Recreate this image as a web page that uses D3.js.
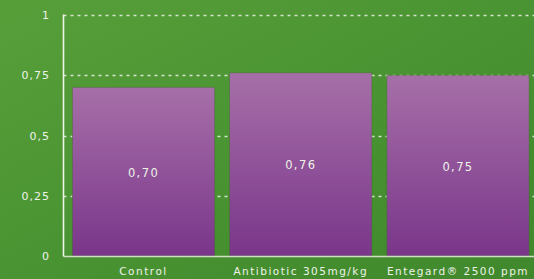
<!DOCTYPE html>
<html>
<head>
<meta charset="utf-8">
<script src="https://cdn.jsdelivr.net/npm/d3@7"></script>
<style>
  html, body { margin: 0; padding: 0; background: #4a9333; }
  svg { display: block; }
  text { font-family: "DejaVu Sans", sans-serif; fill: #eef3e8; }
</style>
</head>
<body>
<svg></svg>
<script>
// chart data
const categories = ["Control", "Antibiotic 305mg/kg", "Entegard\u00ae 2500 ppm"];
const values = [0.70, 0.76, 0.75];
const valueLabels = ["0,70", "0,76", "0,75"];
const tickValues = [0, 0.25, 0.5, 0.75, 1];
const tickLabels = ["0", "0,25", "0,5", "0,75", "1"];

const width = 534;
const height = 279;

const svg = d3.select("svg").attr("width", width).attr("height", height);

// gradients for background and bars
const defs = svg.append("defs");
const bg = defs.append("linearGradient").attr("id", "bg")
  .attr("x1", "0").attr("y1", "0").attr("x2", "1").attr("y2", "1");
bg.append("stop").attr("offset", "0%").attr("stop-color", "#569f39");
bg.append("stop").attr("offset", "100%").attr("stop-color", "#3f882c");

const barGrad = defs.append("linearGradient").attr("id", "barGrad")
  .attr("x1", "0").attr("y1", "0").attr("x2", "0").attr("y2", "1");
barGrad.append("stop").attr("offset", "0%").attr("stop-color", "#a66fa8");
barGrad.append("stop").attr("offset", "100%").attr("stop-color", "#7a368a");

svg.append("rect").attr("width", width).attr("height", height).attr("fill", "url(#bg)");

// scales
const y = d3.scaleLinear().domain([0, 1]).range([256, 15]);
const x = d3.scaleBand().domain(categories)
  .range([64.5, 537]).paddingInner(0.095).paddingOuter(0.05);

const axisX = 63.5;

// dashed gridlines
svg.append("g").selectAll("line")
  .data(tickValues.filter(d => d > 0))
  .join("line")
  .attr("x1", axisX).attr("x2", width)
  .attr("y1", d => Math.round(y(d)) + 0.5).attr("y2", d => Math.round(y(d)) + 0.5)
  .attr("stroke", "#d6e3cc")
  .attr("stroke-width", 1.3)
  .attr("stroke-dasharray", "3,4");

// bars
svg.append("g").selectAll("rect")
  .data(values)
  .join("rect")
  .attr("x", (d, i) => x(categories[i]))
  .attr("y", d => y(d))
  .attr("width", x.bandwidth())
  .attr("height", d => y(0) - y(d))
  .attr("fill", "url(#barGrad)")
  .attr("stroke", "#3d6a2a")
  .attr("stroke-opacity", 0.5)
  .attr("stroke-width", 0.8);

// value labels inside bars
svg.append("g").selectAll("text")
  .data(values)
  .join("text")
  .attr("x", (d, i) => x(categories[i]) + x.bandwidth() / 2)
  .attr("y", d => (y(d) + y(0)) / 2 + 5)
  .attr("text-anchor", "middle")
  .attr("font-size", 11.5)
  .attr("letter-spacing", 1.4)
  .text((d, i) => valueLabels[i]);

// axes lines
svg.append("line")
  .attr("x1", axisX).attr("x2", axisX)
  .attr("y1", y(1) - 0.5).attr("y2", y(0) + 0.5)
  .attr("stroke", "#eef3e8").attr("stroke-width", 1.6);
svg.append("line")
  .attr("x1", axisX).attr("x2", width)
  .attr("y1", y(0) + 0.5).attr("y2", y(0) + 0.5)
  .attr("stroke", "#cfe0c4").attr("stroke-width", 1.6);

// y tick labels
svg.append("g").selectAll("text")
  .data(tickValues)
  .join("text")
  .attr("x", 50)
  .attr("y", d => y(d) + 4)
  .attr("text-anchor", "end")
  .attr("font-size", 11)
  .attr("letter-spacing", 1)
  .text((d, i) => tickLabels[i]);

// category labels
svg.append("g").selectAll("text")
  .data(categories)
  .join("text")
  .attr("x", d => x(d) + x.bandwidth() / 2)
  .attr("y", 275)
  .attr("text-anchor", "middle")
  .attr("font-size", 10.5)
  .attr("letter-spacing", 1.5)
  .text(d => d);
</script>
</body>
</html>
